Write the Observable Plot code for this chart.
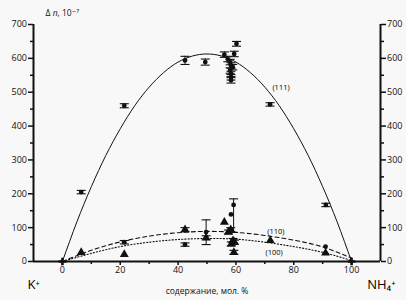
<!DOCTYPE html>
<html>
<head>
<meta charset="utf-8">
<script src="https://cdn.jsdelivr.net/npm/d3@7"></script>
<script src="https://cdn.jsdelivr.net/npm/@observablehq/plot@0.6"></script>
<style>
  html, body { margin: 0; padding: 0; background: #f8f8f8; }
  #chart svg { display: block; }
</style>
</head>
<body>
<div id="chart"></div>
<script>
// (111) reflection: composition (mol. % NH4+) vs birefringence Δn
const comp111 = [6.5, 21.4, 42.4, 49.4, 56.0, 57.2, 58.0, 58.3, 58.9, 58.0, 58.3, 58.3, 58.3, 59.4, 60.2, 71.8, 91.1];
const dn111   = [205, 460, 594, 589, 611, 598, 589, 579, 574, 564, 554, 544, 535, 613, 643, 464, 167];
const err111  = [5, 6, 12, 9, 8, 8, 8, 8, 8, 8, 8, 8, 8, 8, 7, 5, 5];

// (110) circles with asymmetric error bars
const comp110  = [21.4, 42.4, 49.7, 58.3, 59.2, 91.0];
const dn110    = [57, 50, 87, 139, 167, 44];
const errLo110 = [5, 5, 37, 0, 81, 0];
const errHi110 = [5, 5, 36, 0, 18, 0];

// (100) triangles
const comp100 = [6.5, 21.4, 42.4, 49.7, 56.0, 57.4, 58.2, 59.0, 58.4, 59.5, 59.3, 71.9, 91.0];
const dn100   = [27, 21, 94, 70, 116, 87, 94, 62, 52, 57, 27, 62, 25];
const err100  = [0, 0, 6, 6, 0, 6, 6, 6, 6, 6, 6, 0, 0];

// pure salts at both ends
const endComp = [0, 100];
const endDn   = [0, 0];

// fitted curves
const fit111X = [0, 5, 10, 15, 20, 25, 30, 35, 40, 45, 50, 55, 60, 65, 70, 75, 80, 85, 90, 95, 100];
const fit111Y = [0, 117, 221, 313, 392, 460, 515, 558, 589, 607, 613, 607, 589, 558, 515, 460, 392, 313, 221, 117, 0];
const fit110X = [0, 10, 20, 30, 40, 50, 60, 70, 80, 90, 100];
const fit110Y = [0, 33, 58, 75, 85, 89, 86, 77, 63, 43, 10];
const fit100X = [0, 10, 20, 30, 40, 50, 60, 70, 80, 90, 100];
const fit100Y = [0, 24, 44, 57, 65, 68, 66, 57, 44, 27, 3];

// curve labels
const labelComp = [75.6, 73.8, 73.2];
const labelDn   = [514, 89, 26];
const labelText = ["(111)", "(110)", "(100)"];

// axis ticks
const xMajor = [0, 20, 40, 60, 80, 100];
const xMinor = [10, 30, 50, 70, 90];
const yMajor = [0, 100, 200, 300, 400, 500, 600, 700];
const yMinor = [50, 150, 250, 350, 450, 550, 650];

const zip = (xs, ys, extra = {}) => xs.map((x, i) => {
  const o = {x, y: ys[i]};
  for (const k in extra) o[k] = extra[k][i];
  return o;
});

const pts111 = zip(comp111, dn111, {e: err111}).map(d => ({...d, lo: d.y - d.e, hi: d.y + d.e}));
const pts110 = zip(comp110, dn110, {a: errLo110, b: errHi110}).map(d => ({...d, lo: d.y - d.a, hi: d.y + d.b}));
const pts100 = zip(comp100, dn100, {e: err100}).map(d => ({...d, lo: d.y - d.e, hi: d.y + d.e}));
const withBars = [...pts111, ...pts110, ...pts100].filter(d => d.hi > d.lo);
const caps = withBars.flatMap(d => [{x: d.x, y: d.lo}, {x: d.x, y: d.hi}]);

// horizontal cap symbol for error bars
const capSymbol = {
  draw(ctx, size) {
    const w = Math.sqrt(size / Math.PI);
    ctx.moveTo(-w, 0);
    ctx.lineTo(w, 0);
  }
};

const font = "'Open Sans', 'DejaVu Sans', sans-serif";
const ink = "#111";

const chart = Plot.plot({
  width: 406,
  height: 300,
  marginLeft: 33,
  marginRight: 26,
  marginTop: 24,
  marginBottom: 39,
  x: {domain: [-10, 110], label: null},
  y: {domain: [0, 700], label: null},
  style: {fontFamily: font, background: "#f8f8f8", color: ink, overflow: "visible"},
  marks: [
    // axes
    Plot.axisY({anchor: "left", ticks: yMajor, tickSize: 5, tickPadding: 1.5, fontSize: 9, strokeWidth: 1.5, label: null}),
    Plot.axisY({anchor: "left", ticks: yMinor, tickSize: 3, tickFormat: () => "", strokeWidth: 1.5, label: null}),
    Plot.axisY({anchor: "right", ticks: yMajor, tickSize: 5, tickPadding: 1.5, fontSize: 9, strokeWidth: 1.5, label: null}),
    Plot.axisY({anchor: "right", ticks: yMinor, tickSize: 3, tickFormat: () => "", strokeWidth: 1.5, label: null}),
    Plot.axisX({anchor: "bottom", ticks: xMajor, tickSize: 4, tickPadding: 1, fontSize: 9, strokeWidth: 1.5, label: null}),
    Plot.axisX({anchor: "bottom", ticks: xMinor, tickSize: 3, tickFormat: () => "", strokeWidth: 1.5, label: null}),

    // fitted curves
    Plot.line(zip(fit111X, fit111Y), {x: "x", y: "y", curve: "natural", stroke: ink, strokeWidth: 1}),
    Plot.line(zip(fit110X, fit110Y), {x: "x", y: "y", curve: "natural", stroke: ink, strokeWidth: 1.1, strokeDasharray: "4,3"}),
    Plot.line(zip(fit100X, fit100Y), {x: "x", y: "y", curve: "natural", stroke: ink, strokeWidth: 1.1, strokeDasharray: "1.2,2"}),

    // frame lines
    Plot.ruleX([-10, 110], {stroke: ink, strokeWidth: 2}),
    Plot.ruleY([0], {stroke: ink, strokeWidth: 2}),

    // error bars
    Plot.ruleX(withBars, {x: "x", y1: "lo", y2: "hi", stroke: ink, strokeWidth: 1}),
    Plot.dot(caps, {x: "x", y: "y", symbol: capSymbol, r: 4.5, stroke: ink, strokeWidth: 1.1, fill: "none"}),

    // data points
    Plot.dot(pts111, {x: "x", y: "y", r: 2.4, fill: ink, stroke: "none"}),
    Plot.dot(pts110, {x: "x", y: "y", r: 2.4, fill: ink, stroke: "none"}),
    Plot.dot(pts100, {x: "x", y: "y", symbol: "triangle", r: 3.3, fill: ink, stroke: "none"}),
    Plot.dot(zip(endComp, endDn), {x: "x", y: "y", symbol: "cross", r: 3.2, fill: ink, stroke: "none"}),

    // curve labels
    Plot.text(zip(labelComp, labelDn, {t: labelText}), {x: "x", y: "y", text: "t", fontSize: 7.5, fill: "#000"}),

    // titles
    Plot.text(["Δ n, 10⁻⁷"], {frameAnchor: "top-left", dx: 12, dy: -15, textAnchor: "start", fontSize: 8.5, fill: ink, className: "ytitle"}),
    Plot.text(["содержание, мол. %"], {frameAnchor: "bottom", dy: 32, fontSize: 8.5, fill: ink}),
    Plot.text(["K⁺"], {frameAnchor: "bottom-left", dx: -6, dy: 27, fontSize: 13, fill: "#000"}),
    Plot.text(["NH₄⁺"], {frameAnchor: "bottom-right", dx: 15, dy: 27, fontSize: 13, fill: "#000"})
  ]
});

document.getElementById("chart").appendChild(chart);

// italic n in the y-axis title
d3.select(chart).selectAll("g.ytitle text").each(function () {
  const t = d3.select(this);
  t.text(null);
  t.append("tspan").text("Δ ");
  t.append("tspan").attr("font-style", "italic").text("n");
  t.append("tspan").text(", 10⁻⁷");
});
</script>
</body>
</html>
